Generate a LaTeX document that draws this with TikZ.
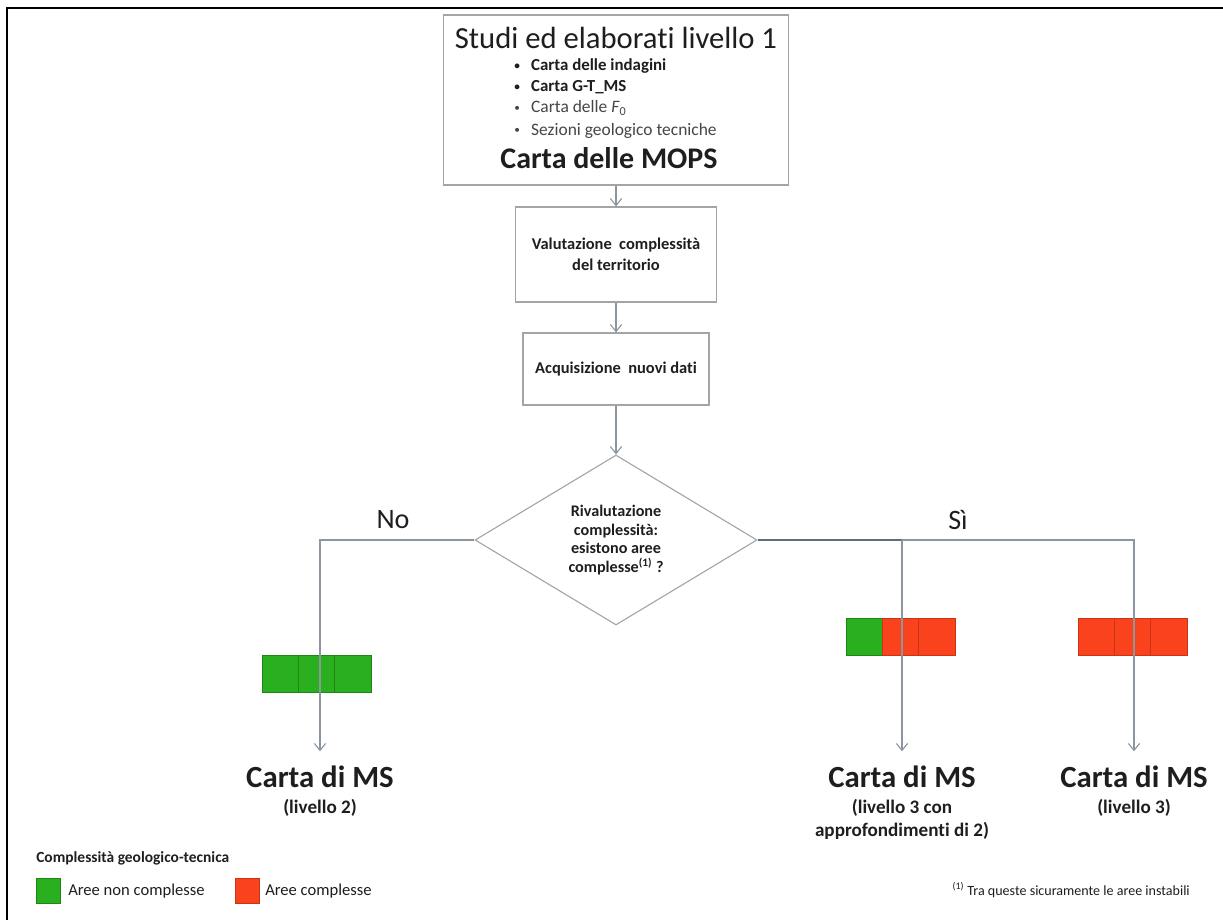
\documentclass[tikz,border=0pt]{standalone}
\usepackage{fontspec}
\setmainfont{Carlito}[Ligatures=NoCommon]
\usetikzlibrary{shapes.geometric,arrows.meta}
\definecolor{lgray}{RGB}{140,150,160}
\definecolor{dline}{RGB}{95,110,125}
\definecolor{boxgray}{RGB}{165,165,165}
\definecolor{txt}{RGB}{30,30,30}
\definecolor{ltxt}{RGB}{70,70,70}
\definecolor{cgreen}{RGB}{42,176,30}
\definecolor{cred}{RGB}{250,66,28}
\newcommand{\bul}{\makebox[12pt][l]{\raisebox{1pt}{\fontsize{8}{8}\selectfont\textbullet}}}
\begin{document}
\begin{tikzpicture}[x=0.025cm,y=-0.025cm,
  every node/.style={text=txt},
  box/.style={draw=boxgray,line width=0.8pt,fill=white,rectangle,inner sep=0pt,align=center,
    font=\bfseries\fontsize{11.7}{15}\selectfont},
  conn/.style={draw=lgray,line width=0.8pt},
  arr/.style={conn,-{Straight Barb[length=5pt,width=8pt]}},
  cellg/.style={rectangle,inner sep=0pt,minimum width=36.3*0.025cm,minimum height=37*0.025cm,
    draw=cgreen!75!black,fill=cgreen},
  cellr/.style={rectangle,inner sep=0pt,minimum width=36.3*0.025cm,minimum height=37*0.025cm,
    draw=cred!80!black,fill=cred},
  res/.style={anchor=base,inner sep=0pt,outer ysep=10pt,font=\bfseries\fontsize{21.9}{26}\selectfont},
  sub/.style={anchor=base,inner sep=0pt,font=\bfseries\fontsize{13.6}{16}\selectfont},
  item/.style={anchor=base west,inner sep=0pt,font=\fontsize{12.4}{15}\selectfont},
  lbl/.style={anchor=base,inner sep=0pt,font=\fontsize{20}{24}\selectfont},
  leg/.style={anchor=base west,inner sep=0pt,font=\fontsize{11.8}{14}\selectfont}
]
\useasboundingbox (0,0) rectangle (1223,920);
% frame
\draw[line width=1.6pt,black] (7,920) -- (7,8) -- (1223,8);

% top box
\node[box,minimum width=345*0.025cm,minimum height=170*0.025cm] (b1) at (616,100) {};
\node[anchor=base,inner sep=0pt,font=\fontsize{21.8}{26}\selectfont] (t1) at (616,49) {Studi ed elaborati livello 1};
\node[item,font=\bfseries\fontsize{12}{15}\selectfont] (i1) at (514,71) {\bul Carta delle indagini};
\node[item,font=\bfseries\fontsize{12}{15}\selectfont] (i2) at (514,92) {\bul Carta G-T\_MS};
\node[item,text=ltxt] (i3) at (514,113) {\bul Carta delle \textit{F}\textsubscript{0}};
\node[item,text=ltxt] (i4) at (514,135) {\bul Sezioni geologico tecniche};
\node[anchor=base,inner sep=0pt,font=\bfseries\fontsize{21.3}{26}\selectfont] (t2) at (609,168) {Carta delle MOPS};

% process boxes
\node[box,minimum width=201*0.025cm,minimum height=95*0.025cm] (b2) at (616,254.5) {Valutazione\ \ complessità\\del territorio};
\node[box,minimum width=186*0.025cm,minimum height=72*0.025cm] (b3) at (616,369) {Acquisizione\ \ nuovi dati};

% decision
\node[diamond,draw=boxgray,line width=0.8pt,fill=white,inner sep=0pt,
  minimum width=282*0.025cm,minimum height=170*0.025cm,align=center,
  font=\bfseries\fontsize{11.5}{13.3}\selectfont] (dia) at (616,540)
  {Rivalutazione\\complessità:\\esistono aree\\complesse\textsuperscript{(1)} ?};

\node[lbl] (no) at (393,528) {No};
\node[lbl] (si) at (958,529) {Sì};

% bars
\node[cellg] (a1) at (280.2,673.5) {};
\node[cellg] (a2) at (316.5,673.5) {};
\node[cellg] (a3) at (352.8,673.5) {};
\node[cellg] (m1) at (864.2,637) {};
\node[cellr] (m2) at (900.5,637) {};
\node[cellr] (m3) at (936.8,637) {};
\node[cellr] (r1) at (1096.2,637) {};
\node[cellr] (r2) at (1132.5,637) {};
\node[cellr] (r3) at (1168.8,637) {};

% results
\node[res] (ms2) at (320,787) {Carta di MS};
\node[sub] (ms2s) at (320,813) {(livello 2)};
\node[res] (ms3a) at (902,787) {Carta di MS};
\node[sub] (ms3as) at (902,813) {(livello 3 con};
\node[sub] (ms3at) at (902,836) {approfondimenti di 2)};
\node[res] (ms3b) at (1134,787) {Carta di MS};
\node[sub] (ms3bs) at (1134,813) {(livello 3)};

% connectors
\draw[arr] (b1.south) -- (b2.north);
\draw[arr] (b2.south) -- (b3.north);
\draw[arr] (b3.south) -- (dia.north);
\draw[arr] (dia.west) -| (ms2.north);
\draw[arr] (dia.east) -| (ms3b.north);
\draw[conn,draw=dline] (dia.east) -- (dia.east -| ms3a.north);
\draw[arr] (dia.east -| ms3a.north) -- (ms3a.north);

% legend
\node[anchor=base west,inner sep=0pt,font=\bfseries\fontsize{11}{13}\selectfont] (lgt) at (36,862) {Complessità geologico-tecnica};
\node[cellg,minimum width=24*0.025cm,minimum height=25*0.025cm] (lg) at (48.5,890.5) {};
\node[leg] (lgl) at (68,895) {Aree non complesse};
\node[cellr,minimum width=24*0.025cm,minimum height=25*0.025cm] (lr) at (247,890.5) {};
\node[leg] (lrl) at (265,895) {Aree complesse};
\node[anchor=base east,inner sep=0pt,font=\fontsize{10}{12}\selectfont] (fn) at (1190,895) {\textsuperscript{(1)} Tra queste sicuramente le aree instabili};
\end{tikzpicture}
\end{document}
